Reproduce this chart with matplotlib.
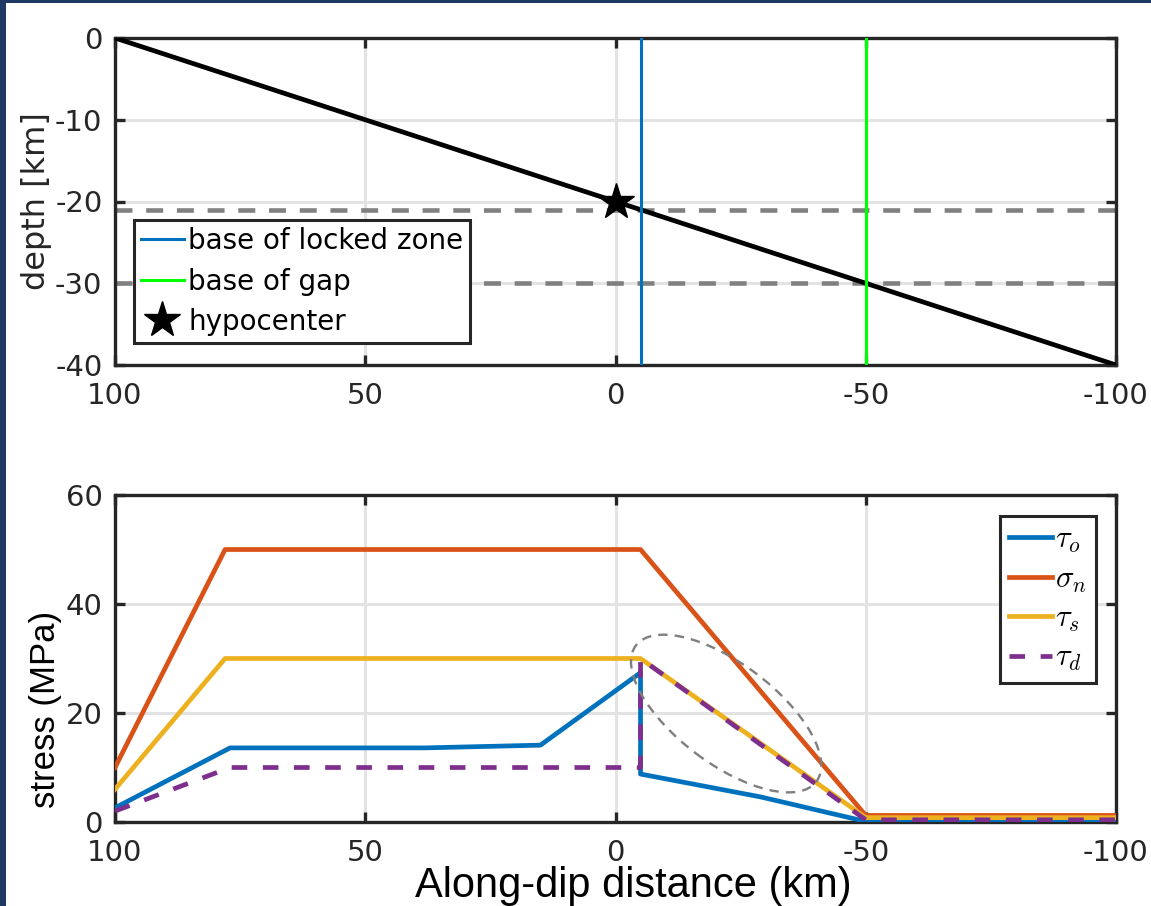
import numpy as np
import matplotlib
matplotlib.use("Agg")
import matplotlib.pyplot as plt
from matplotlib.patches import Rectangle, Ellipse
from matplotlib.transforms import ScaledTranslation

plt.rcParams['mathtext.fontset'] = 'cm'
plt.rcParams['font.family'] = ['DejaVu Sans']

# ---------------- data ----------------
# top panel
fault_x = [100, -100]
fault_depth = [0, -40]
locked_x = -5
gap_x = -50
hypo_x = 0
hypo_depth = -20
ref_depths = [-21, -30]
top_xticks = [100, 50, 0, -50, -100]
top_yticks = [0, -10, -20, -30, -40]

# bottom panel
sigma_n_x = [100, 78, -5, -50, -100]
sigma_n = [10, 50, 50, 1.2, 1.2]
tau_s_x = [100, 78, -5, -50, -100]
tau_s = [6, 30, 30, 0.8, 0.8]
tau_o_x = [100, 77, 38, 15, -5, -5, -29, -50, -100]
tau_o = [2.6, 13.6, 13.6, 14.1, 27.4, 8.8, 4.6, 0.1, 0.1]
tau_d_x = [100, 77, -5, -5, -50, -100]
tau_d = [2.0, 10, 10, 30, 0.4, 0.4]
bot_yticks = [0, 20, 40, 60]
ellipse_center = (-22.1, 19.9)

# colours
C_BLUE = '#0072BD'
C_ORANGE = '#D95319'
C_YELLOW = '#EDB120'
C_PURPLE = '#7E2F8E'
C_GREEN = '#00FF00'
C_AX = '#262626'
C_GRID = '#E3E3E3'

W, H = 1151, 906
fig = plt.figure(figsize=(W / 100, H / 100), dpi=100)
fig.patch.set_facecolor('white')
navy = '#1F3864'
fig.patches.append(Rectangle((0, 1 - 3 / H), 1, 3 / H, transform=fig.transFigure,
                             facecolor=navy, edgecolor='none', zorder=-1))
fig.patches.append(Rectangle((0, 0), 6 / W, 1, transform=fig.transFigure,
                             facecolor=navy, edgecolor='none', zorder=-1))

left = 115 / W
width = 1001 / W
height = 327 / H
ax1 = fig.add_axes([left, (H - 365) / H, width, height])
ax2 = fig.add_axes([left, (H - 822) / H, width, height])


def style(ax, yticks, ylim):
    ax.set_xlim(100, -100)
    ax.set_ylim(*ylim)
    ax.set_xticks(top_xticks)
    ax.set_xticklabels([str(t) for t in top_xticks])
    ax.set_yticks(yticks)
    ax.set_yticklabels([str(t) for t in yticks])
    ax.grid(True, color=C_GRID, linewidth=2.2, zorder=0)
    ax.set_axisbelow(True)
    for s in ax.spines.values():
        s.set_color(C_AX)
        s.set_linewidth(2.4)
    ax.tick_params(direction='in', length=7, width=2.4, color=C_AX,
                   top=True, right=True, labelsize=21, labelcolor=C_AX)
    ax.tick_params(axis='x', pad=12)
    ax.tick_params(axis='y', pad=9)


style(ax1, top_yticks, (-40, 0))
style(ax2, bot_yticks, (0, 60))

# ---------- top panel ----------
for d in ref_depths:
    ax1.axhline(d, color='#808080', linewidth=3.3, dashes=(3.7, 3.0), zorder=2)
ax1.plot(fault_x, fault_depth, color='black', linewidth=3.4, zorder=3)
l_locked = ax1.axvline(locked_x, color=C_BLUE, linewidth=2.2, zorder=4)
l_gap = ax1.axvline(gap_x, color=C_GREEN, linewidth=2.2, zorder=4)
hyp, = ax1.plot([hypo_x], [hypo_depth], marker='*', markersize=27, color='black',
                linestyle='none', zorder=5)
ax1.set_ylabel('depth [km]', fontsize=23, color=C_AX)
ax1.yaxis.set_label_coords(-0.063, 0.5)
leg1 = ax1.legend([l_locked, l_gap, hyp], ['base of locked zone', 'base of gap', 'hypocenter'],
                  loc='lower left', bbox_to_anchor=(19 / 1001, 22 / 327), fontsize=20,
                  frameon=True, fancybox=False, framealpha=1, edgecolor=C_AX,
                  handlelength=1.55, handletextpad=0.15, labelspacing=0.45,
                  borderpad=0.25, borderaxespad=0, markerscale=1.0)
leg1.get_frame().set_linewidth(2.2)

# ---------- bottom panel ----------
l_o, = ax2.plot(tau_o_x, tau_o, color=C_BLUE, linewidth=3.4, zorder=3)
l_n, = ax2.plot(sigma_n_x, sigma_n, color=C_ORANGE, linewidth=3.4, zorder=3)
l_s, = ax2.plot(tau_s_x, tau_s, color=C_YELLOW, linewidth=3.4, zorder=3)
l_d, = ax2.plot(tau_d_x, tau_d, color=C_PURPLE, linewidth=3.4, dashes=(3.3, 3.3), zorder=4)

ell_tr = fig.dpi_scale_trans + ScaledTranslation(ellipse_center[0], ellipse_center[1], ax2.transData)
ell = Ellipse((0, 0), width=2 * 1.13, height=2 * 0.5, angle=-37, transform=ell_tr,
              fill=False, edgecolor='#7F7F7F', linewidth=1.7, linestyle=(0, (4, 3)), zorder=5)
ax2.add_patch(ell)

ax2.set_ylabel('stress (MPa)', fontsize=25, family=['Liberation Sans'], color='black')
ax2.yaxis.set_label_coords(-0.053, 0.343)
ax2.set_xlabel('Along-dip distance (km)', fontsize=30, family=['Liberation Sans'],
               color='black')
ax2.xaxis.set_label_coords(0.5175, -0.135)
leg2 = ax2.legend([l_o, l_n, l_s, l_d], [r'$\tau_o$', r'$\sigma_n$', r'$\tau_s$', r'$\tau_d$'],
                  loc='upper right', bbox_to_anchor=(981 / 1001, 306 / 327), fontsize=22,
                  frameon=True, fancybox=False, framealpha=1, edgecolor=C_AX,
                  handlelength=1.4, handletextpad=0.1, labelspacing=0.3,
                  borderpad=0.3, borderaxespad=0)
leg2.get_frame().set_linewidth(2.2)

fig.savefig('out.png', dpi=100, facecolor=fig.get_facecolor())
